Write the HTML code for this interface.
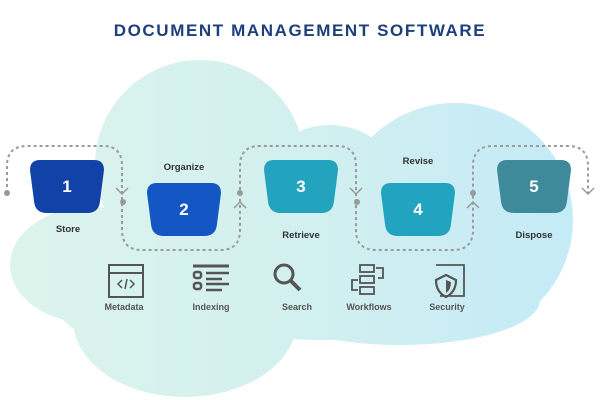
<!DOCTYPE html>
<html><head><meta charset="utf-8"><style>
html,body{margin:0;padding:0;background:#fff;}
svg{display:block;}
text{font-family:"Liberation Sans",sans-serif;font-weight:bold;}
</style></head><body>
<svg width="600" height="400" viewBox="0 0 600 400" xmlns="http://www.w3.org/2000/svg">
<defs>
<linearGradient id="bg" gradientUnits="userSpaceOnUse" x1="0" y1="0" x2="600" y2="0">
<stop offset="0" stop-color="#ddf4ec"/><stop offset="0.5" stop-color="#d2f0ef"/><stop offset="1" stop-color="#c3eaf8"/>
</linearGradient>
</defs>
<text x="300" y="36" text-anchor="middle" font-size="17" fill="#1d3f7a" letter-spacing="1.6">DOCUMENT MANAGEMENT SOFTWARE</text>
<g fill="url(#bg)">
<circle cx="200" cy="165" r="105"/>
<ellipse cx="455" cy="220" rx="118" ry="117"/>
<ellipse cx="320" cy="240" rx="200" ry="100"/>
<ellipse cx="90" cy="265" rx="80" ry="58"/>
<ellipse cx="185" cy="320" rx="112" ry="77"/>
<ellipse cx="150" cy="290" rx="100" ry="60"/>
<ellipse cx="400" cy="300" rx="140" ry="45"/>
<ellipse cx="330" cy="170" rx="60" ry="45"/>
</g>
<path d="M7,193 V166 Q7,146 27,146 H103 Q122,146 122,166 V230 Q122,250 142,250 H220 Q240,250 240,230 V166 Q240,146 260,146 H337 Q356,146 356,166 V230 Q356,250 376,250 H453 Q473,250 473,230 V166 Q473,146 493,146 H568 Q588,146 588,166 V193" fill="none" stroke="#9a9a9a" stroke-width="2" stroke-dasharray="3 3"/>
<g fill="#999"><circle cx="7" cy="193" r="3"/><circle cx="123" cy="202" r="3"/><circle cx="240" cy="193" r="3"/><circle cx="357" cy="202" r="3"/><circle cx="473" cy="193" r="3"/></g>
<g fill="none" stroke="#999" stroke-width="1.5">
<polyline points="116,188 122,194 128,188"/><polyline points="234,208 240,202 246,208"/>
<polyline points="350,188 356,194 362,188"/><polyline points="467,208 473,202 479,208"/>
<polyline points="582,188 588,194 594,188"/>
</g>
<g>
<path d="M40,160 H94 Q104,160 104,170 L100,201 Q99,213 87,213 H47 Q35,213 34,201 L30,170 Q30,160 40,160 Z" fill="#1142a8"/>
<path d="M157,183 H211 Q221,183 221,193 L217,224 Q216,236 204,236 H164 Q152,236 151,224 L147,193 Q147,183 157,183 Z" fill="#1457c4"/>
<path d="M274,160 H328 Q338,160 338,170 L334,201 Q333,213 321,213 H281 Q269,213 268,201 L264,170 Q264,160 274,160 Z" fill="#23a3be"/>
<path d="M391,183 H445 Q455,183 455,193 L451,224 Q450,236 438,236 H398 Q386,236 385,224 L381,193 Q381,183 391,183 Z" fill="#22a3bf"/>
<path d="M507,160 H561 Q571,160 571,170 L567,201 Q566,213 554,213 H514 Q502,213 501,201 L497,170 Q497,160 507,160 Z" fill="#3e8a9a"/>
</g>
<g fill="#fff" font-size="17" text-anchor="middle">
<text x="67" y="192">1</text><text x="184" y="215">2</text><text x="301" y="192">3</text><text x="418" y="215">4</text><text x="534" y="192">5</text>
</g>
<g fill="#333" font-size="9.5" text-anchor="middle">
<text x="68" y="232">Store</text><text x="184" y="170">Organize</text><text x="301" y="238">Retrieve</text><text x="418" y="164">Revise</text><text x="534" y="238">Dispose</text>
</g>
<g fill="#555" font-size="9" text-anchor="middle">
<text x="124" y="310">Metadata</text><text x="211" y="310">Indexing</text><text x="297" y="310">Search</text><text x="369" y="310">Workflows</text><text x="447" y="310">Security</text>
</g>
<g fill="none" stroke="#555" stroke-width="2">
<rect x="109" y="265" width="34" height="32"/><line x1="109" y1="273" x2="143" y2="273"/>
<polyline points="122,280 118,284 122,288" stroke-width="1.5"/><polyline points="130,280 134,284 130,288" stroke-width="1.5"/><line x1="127" y1="279" x2="125" y2="289" stroke-width="1.5"/>
<line x1="193" y1="266" x2="229" y2="266" stroke-width="3"/>
<rect x="194" y="272" width="7" height="6" rx="2" stroke-width="2.5"/><rect x="194" y="283" width="7" height="6" rx="2" stroke-width="2.5"/>
<line x1="206" y1="273" x2="229" y2="273" stroke-width="2.5"/><line x1="206" y1="279" x2="222" y2="279" stroke-width="2.5"/>
<line x1="206" y1="284" x2="229" y2="284" stroke-width="2.5"/><line x1="206" y1="290" x2="222" y2="290" stroke-width="2.5"/>
<circle cx="284" cy="274" r="9" stroke-width="3"/><line x1="291" y1="281" x2="300" y2="290" stroke-width="4"/>
<rect x="360" y="265" width="14" height="7" stroke-width="1.8"/><rect x="360" y="276" width="14" height="7" stroke-width="1.8"/><rect x="360" y="287" width="14" height="7" stroke-width="1.8"/>
<path d="M376,268 H383 V278 H378" stroke-width="1.8"/><path d="M358,280 H352 V290 H358" stroke-width="1.8"/>
<path d="M436,265 H464 V296 H440" stroke-width="1.8"/>
<path d="M436,280 L446,275 L456,280 Q456,292 446,297 Q436,292 436,280 Z" stroke-width="2.2"/>
</g>
<path d="M446,280 L451,282 Q451,290 446,293 Z" fill="#555"/>
</svg>
</body></html>
